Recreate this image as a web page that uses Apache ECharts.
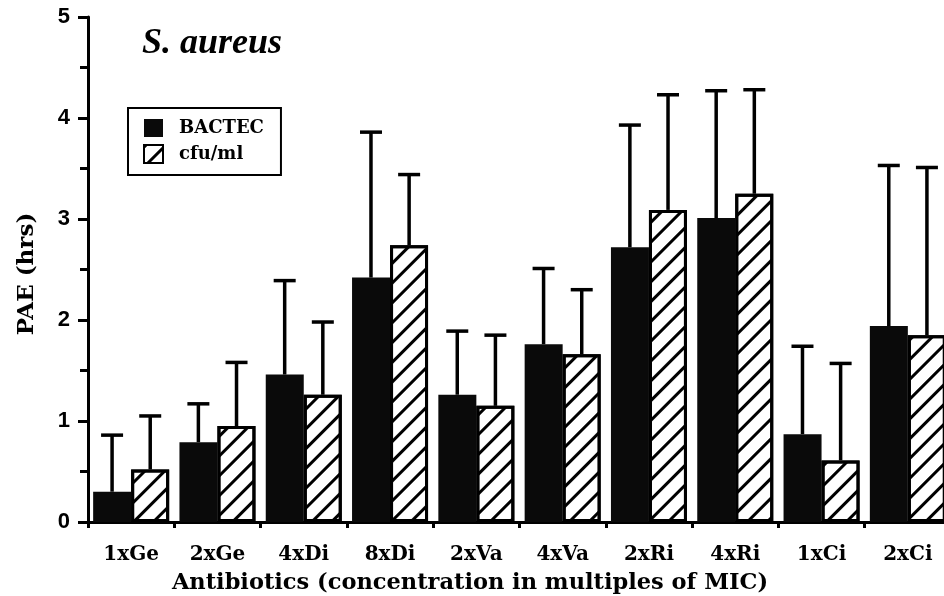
<!DOCTYPE html>
<html>
<head>
<meta charset="utf-8">
<script src="https://cdn.jsdelivr.net/npm/echarts@6/dist/echarts.min.js"></script>
<style>
html,body{margin:0;padding:0;background:#fff;}
#chart{width:944px;height:596px;}
</style>
</head>
<body>
<div id="chart"></div>
<script>
const categories = ['1xGe','2xGe','4xDi','8xDi','2xVa','4xVa','2xRi','4xRi','1xCi','2xCi'];
const bactecMean = [0.30, 0.79, 1.46, 2.42, 1.26, 1.76, 2.72, 3.01, 0.87, 1.94];
const bactecUpper = [0.86, 1.17, 2.39, 3.86, 1.89, 2.51, 3.93, 4.27, 1.74, 3.53];
const cfuMean = [0.52, 0.95, 1.26, 2.74, 1.15, 1.66, 3.09, 3.25, 0.61, 1.85];
const cfuUpper = [1.05, 1.58, 1.98, 3.44, 1.85, 2.30, 4.23, 4.28, 1.57, 3.51];
const yTicks = [0, 1, 2, 3, 4, 5];

const serif = 'DejaVu Serif';
const chart = echarts.init(document.getElementById('chart'));

function errData(mean, upper) {
  return mean.map((m, i) => [i, m, upper[i]]);
}
function makeErr(side) {
  return function (params, api) {
    const idx = api.value(0), m = api.value(1), up = api.value(2);
    const bw = api.size([1, 0])[0];
    const p0 = api.coord([idx, m]);
    const p1 = api.coord([idx, up]);
    const x = p0[0] + side * bw * 0.221;
    const st = { stroke: '#000', lineWidth: 3.5 };
    return {
      type: 'group',
      children: [
        { type: 'line', shape: { x1: x, y1: p0[1], x2: x, y2: p1[1] }, style: st },
        { type: 'line', shape: { x1: x - 11, y1: p1[1], x2: x + 11, y2: p1[1] }, style: st }
      ]
    };
  };
}

const option = {
  animation: false,
  backgroundColor: '#fff',
  grid: { left: 88, right: -7, top: 17, bottom: 74, outerBoundsMode: 'none', containLabel: false },
  legend: {
    data: [{ name: 'BACTEC', icon: 'rect' }, { name: 'cfu/ml', icon: 'rect' }],
    orient: 'vertical',
    left: 128, top: 108,
    padding: [11, 17, 11, 15],
    itemWidth: 19, itemHeight: 18, itemGap: 7,
    borderColor: '#000', borderWidth: 2,
    textStyle: { fontFamily: serif, fontWeight: 'bold', fontSize: 18, color: '#000', padding: [0, 0, 0, 11] }
  },
  xAxis: {
    type: 'category',
    data: categories,
    axisLine: { lineStyle: { color: '#000', width: 3 } },
    axisTick: { show: true, length: 6, lineStyle: { color: '#000', width: 3 } },
    axisLabel: { color: '#000', fontFamily: serif, fontWeight: 'bold', fontSize: 20, margin: 23 },
    splitLine: { show: false }
  },
  yAxis: {
    type: 'value',
    min: 0, max: 5, interval: 1,
    axisLine: { show: true, lineStyle: { color: '#000', width: 3 } },
    axisTick: { show: true, length: 10, lineStyle: { color: '#000', width: 3 } },
    minorTick: { show: true, splitNumber: 2, length: 8, lineStyle: { color: '#000', width: 3 } },
    axisLabel: { color: '#000', fontFamily: 'Liberation Sans', fontWeight: 'bold', fontSize: 22, margin: 18,
      formatter: v => (yTicks.indexOf(v) >= 0 ? String(v) : '') },
    splitLine: { show: false }
  },
  series: [
    {
      name: 'BACTEC', type: 'bar', data: bactecMean,
      barWidth: 38, barGap: '0%',
      itemStyle: { color: '#0a0a0a', borderColor: '#000', borderWidth: 0 }
    },
    {
      name: 'cfu/ml', type: 'bar', data: cfuMean,
      barWidth: 38, barGap: '0%',
      itemStyle: {
        color: '#fff', borderColor: '#000', borderWidth: 3,
        decal: { symbol: 'rect', symbolSize: 1, dashArrayX: [1, 0], dashArrayY: [3, 11], rotation: -Math.PI / 4, color: '#000' }
      }
    },
    { type: 'custom', renderItem: makeErr(-1), data: errData(bactecMean, bactecUpper), encode: { x: 0, y: 2 }, z: 5 },
    { type: 'custom', renderItem: makeErr(1), data: errData(cfuMean, cfuUpper), encode: { x: 0, y: 2 }, z: 5 }
  ],
  graphic: [
    { type: 'text', left: 142, top: 26,
      style: { text: 'S. aureus', font: 'italic bold 36px "Liberation Serif"', fill: '#000' } },
    { type: 'text', x: 27, y: 274, rotation: Math.PI / 2,
      style: { text: 'PAE (hrs)', font: 'bold 23px "DejaVu Serif"', fill: '#000', textAlign: 'center', textVerticalAlign: 'middle' } },
    { type: 'text', x: 470, y: 583,
      style: { text: 'Antibiotics (concentration in multiples of MIC)', font: 'bold 22.5px "DejaVu Serif"', fill: '#000', textAlign: 'center', textVerticalAlign: 'middle' } }
  ]
};
chart.setOption(option);
</script>
</body>
</html>
